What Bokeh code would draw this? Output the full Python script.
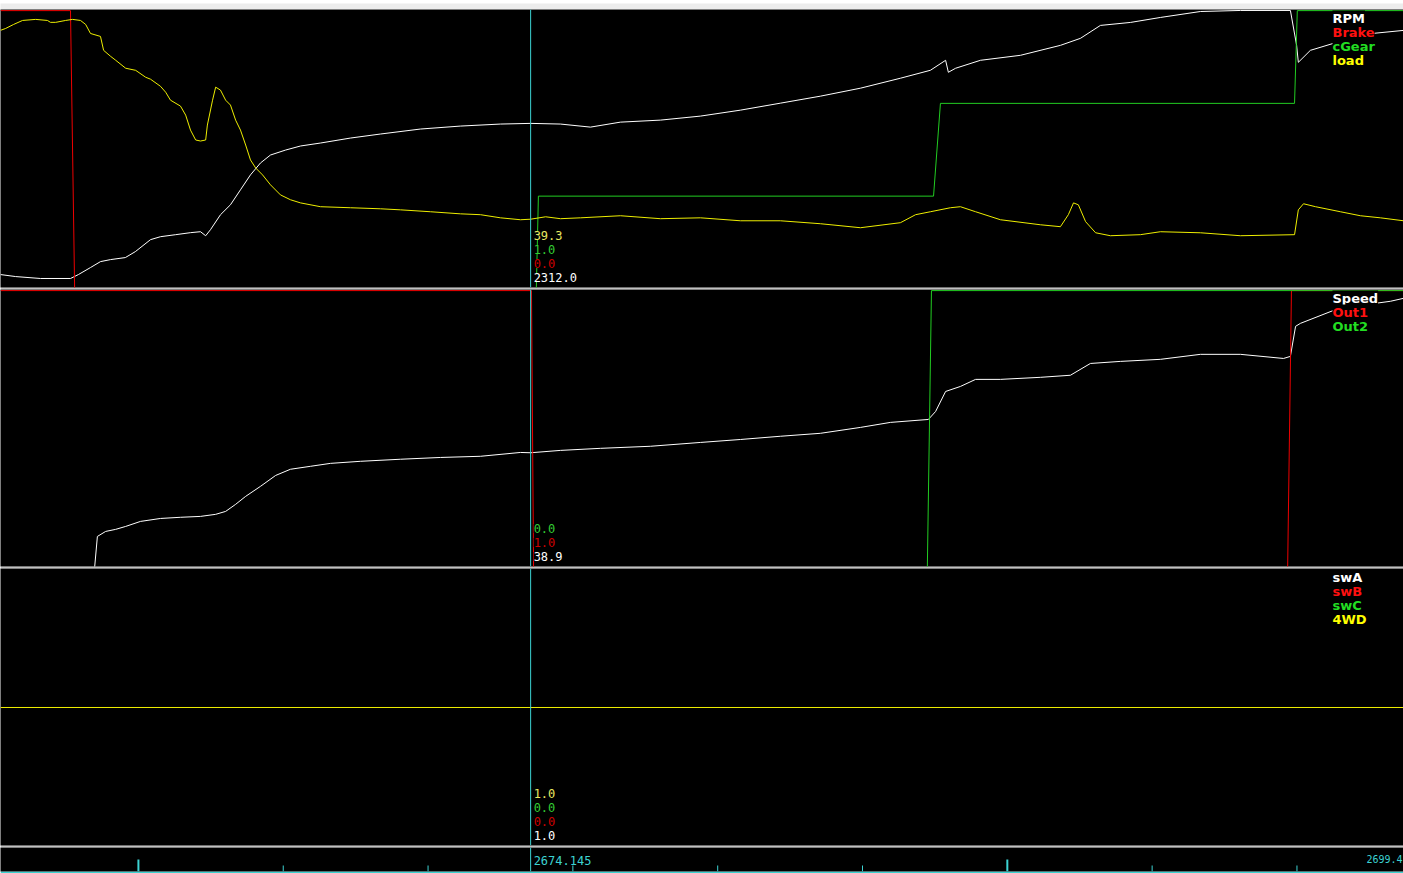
from bokeh.plotting import figure
from bokeh.layouts import column
from bokeh.models import Range1d, Span, Label
from bokeh.embed import file_html
from bokeh.resources import INLINE

# ---------------- data ----------------
T_START, T_END = 2658.77, 2699.46
CURSOR_T = 2674.145
CURSOR_TEXT = "2674.145"
END_TEXT = "2699.4"

rpm_t = [2658.77, 2659.21, 2659.93, 2660.80, 2661.03, 2661.38, 2661.67, 2661.96, 2662.39, 2662.68,
         2663.12, 2663.41, 2663.85, 2664.28, 2664.57, 2664.72, 2664.86, 2665.15, 2665.44, 2665.73,
         2666.02, 2666.31, 2666.60, 2667.04, 2667.47, 2668.05, 2668.92, 2669.79, 2670.95, 2672.11,
         2673.27, 2674.145, 2675.01, 2675.88, 2676.75, 2677.91, 2679.07, 2680.23, 2681.39, 2682.55,
         2683.71, 2684.87, 2685.74, 2686.18, 2686.26, 2686.47, 2687.19, 2688.35, 2689.51, 2690.09,
         2690.67, 2691.54, 2692.41, 2693.57, 2694.73, 2696.18, 2696.36, 2696.41, 2696.76, 2697.43,
         2698.56, 2699.46]
rpm = [735, 714, 694, 694, 735, 808, 870, 891, 912, 974,
       1099, 1130, 1151, 1172, 1182, 1140, 1203, 1359, 1463, 1619,
       1775, 1899, 1982, 2034, 2076, 2107, 2159, 2201, 2253, 2284,
       2305, 2312, 2305, 2273, 2325, 2346, 2388, 2450, 2523, 2596,
       2679, 2783, 2866, 2970, 2845, 2887, 2970, 3022, 3126, 3199,
       3334, 3365, 3417, 3479, 3490, 3490, 3126, 2949, 3074, 3147,
       3250, 3282]

brake_t = [2658.77, 2660.80, 2660.92, 2699.46]
brake = [1, 1, 0, 0]

gear_t = [2658.77, 2674.31, 2674.37, 2685.83, 2686.03, 2696.30, 2696.38, 2699.46]
gear = [0, 0, 1, 1, 2, 2, 3, 3]

load_t = [2658.77, 2658.92, 2659.15, 2659.41, 2659.79, 2660.13, 2660.22, 2660.37, 2660.66, 2660.86,
          2661.09, 2661.24, 2661.38, 2661.67, 2661.76, 2661.96, 2662.11, 2662.40, 2662.69, 2662.98,
          2663.12, 2663.41, 2663.56, 2663.70, 2663.99, 2664.14, 2664.28, 2664.43, 2664.57, 2664.72,
          2664.77, 2664.92, 2665.01, 2665.15, 2665.30, 2665.44, 2665.59, 2665.73, 2665.88, 2666.02,
          2666.17, 2666.37, 2666.60, 2666.89, 2667.18, 2667.47, 2668.05, 2668.92, 2669.79, 2670.37,
          2671.24, 2672.11, 2672.69, 2673.27, 2673.85, 2674.145, 2674.58, 2675.01, 2675.59, 2676.75,
          2677.91, 2679.07, 2680.23, 2681.39, 2682.55, 2683.71, 2684.87, 2685.31, 2685.74, 2686.32,
          2686.61, 2687.05, 2687.77, 2688.93, 2689.51, 2689.74, 2689.89, 2690.03, 2690.24, 2690.53,
          2690.96, 2691.83, 2692.41, 2693.57, 2694.73, 2696.30, 2696.41, 2696.56, 2696.91, 2697.63,
          2698.21, 2698.79, 2699.46]
load = [148.0, 149.1, 151.4, 153.7, 154.3, 153.7, 152.6, 152.6, 153.7, 154.3,
        153.7, 151.4, 146.2, 144.5, 136.5, 133.1, 130.8, 126.2, 125.0, 121.0,
        119.9, 115.8, 112.4, 107.8, 104.4, 99.2, 90.6, 84.9, 84.3, 84.9,
        93.5, 107.8, 115.3, 113.6, 107.8, 105.0, 96.3, 90.6, 82.0, 73.4,
        68.8, 64.8, 59.1, 53.3, 50.5, 48.7, 46.5, 45.9, 45.3, 44.7,
        43.6, 42.4, 41.9, 40.1, 39.0, 39.3, 40.7, 39.6, 40.1, 41.3,
        39.6, 40.1, 38.4, 38.4, 36.7, 34.4, 37.3, 41.9, 43.6, 45.9,
        46.5, 43.6, 39.0, 36.1, 35.0, 41.9, 48.7, 47.6, 37.9, 31.5,
        29.8, 30.4, 32.1, 31.5, 29.8, 30.4, 44.7, 48.2, 46.5, 43.6,
        41.3, 40.1, 38.4]

speed_t = [2658.77, 2661.50, 2661.58, 2661.82, 2662.11, 2662.40, 2662.83, 2663.41, 2663.99, 2664.57,
           2665.01, 2665.30, 2665.59, 2665.88, 2666.31, 2666.75, 2667.18, 2667.76, 2668.34, 2669.21,
           2670.37, 2671.53, 2672.69, 2673.85, 2674.145, 2675.01, 2676.17, 2677.62, 2679.07, 2680.23,
           2681.39, 2682.55, 2683.71, 2684.58, 2685.68, 2685.89, 2686.18, 2686.61, 2687.05, 2687.77,
           2688.93, 2689.80, 2690.38, 2691.25, 2692.41, 2693.57, 2694.73, 2695.98, 2696.18, 2696.33,
           2696.47, 2697.43, 2698.64, 2699.08, 2699.46]
speed = [0, 0, 10.5, 12.2, 12.9, 13.9, 15.6, 16.6, 17.0, 17.3,
         18.0, 19.0, 21.4, 24.1, 27.5, 31.2, 33.3, 34.3, 35.3, 36.0,
         36.7, 37.3, 37.7, 39.0, 38.9, 39.7, 40.4, 41.1, 42.4, 43.4,
         44.5, 45.5, 47.5, 49.2, 50.2, 52.9, 59.7, 61.4, 63.8, 63.8,
         64.5, 65.2, 69.2, 69.9, 70.6, 72.3, 72.3, 70.9, 71.6, 81.8,
         82.8, 87.2, 89.6, 90.3, 91.3]

out1_t = [2658.77, 2674.17, 2674.23, 2696.10, 2696.21, 2699.46]
out1 = [1, 1, 0, 0, 1, 1]
out2_t = [2658.77, 2685.65, 2685.77, 2699.46]
out2 = [0, 0, 1, 1]

sw_t = [2658.77, 2699.46]
swA = [1, 1]
swB = [0, 0]
swC = [0, 0]
fwd = [1, 1]

major_ticks = [2662.77, 2687.97]
minor_ticks = [2666.97, 2671.17, 2675.37, 2679.57, 2683.77, 2692.17, 2696.37]

# ---------------- style ----------------
W = 1403
SEP = "#c0c0c0"
WHITE = "#ffffff"
RED = "#ee0000"
GREEN = "#22cc22"
YELLOW = "#eeee00"
CYAN = "#3cd2d2"
LEG_T = 2697.40

xr = Range1d(T_START, T_END)


def bare(height, bg, border, bottom):
    p = figure(width=W, height=height, x_range=xr, y_range=Range1d(0, height - bottom),
               output_backend="svg", toolbar_location=None,
               x_axis_location=None, y_axis_location=None,
               background_fill_color=bg, border_fill_color=border,
               outline_line_color=None, min_border=0, min_border_left=0,
               min_border_right=0, min_border_top=0, min_border_bottom=bottom)
    p.grid.visible = False
    return p, height - bottom


def legend(p, fh, names):
    for i, (txt, col) in enumerate(names):
        p.add_layout(Label(x=LEG_T, y=fh - 8.5 - 14 * i, text=txt, text_color=col,
                           text_font="DejaVu Sans", text_font_style="bold",
                           text_font_size="13px", text_baseline="middle",
                           background_fill_color="black"))


def readout(p, items):
    n = len(items)
    for i, (txt, col) in enumerate(items):
        p.add_layout(Label(x=CURSOR_T, x_offset=3, y=10 + 14 * (n - 1 - i), text=txt,
                           text_color=col, text_font="DejaVu Sans Mono",
                           text_font_size="12px", text_baseline="middle",
                           background_fill_color="black"))


def cursor(p):
    p.add_layout(Span(location=CURSOR_T, dimension="height", line_color=CYAN, line_width=1))


# window chrome strip on top
pc, _ = bare(9, "#ececec", "#a0a0a0", 1)
pc.line([T_START, T_END], [4, 4], line_alpha=0)

# panel 1
p1, fh = bare(280, "black", SEP, 2)
p1.extra_y_ranges = {"rpm": Range1d(600, 3500), "brake": Range1d(0.005, 1.004),
                     "gear": Range1d(0.015, 3.012), "load": Range1d(0, 160)}
p1.line(rpm_t, rpm, y_range_name="rpm", line_color=WHITE, line_width=1)
p1.line(brake_t, brake, y_range_name="brake", line_color=RED, line_width=1)
p1.line(gear_t, gear, y_range_name="gear", line_color=GREEN, line_width=1)
p1.line(load_t, load, y_range_name="load", line_color=YELLOW, line_width=1)
cursor(p1)
legend(p1, fh, [("RPM", WHITE), ("Brake", "#ff1010"), ("cGear", "#22dd22"), ("load", "#ffff00")])
readout(p1, [("39.3", "#e8e860"), ("1.0", "#33cc33"), ("0.0", "#cc0000"), ("2312.0", WHITE)])

# panel 2
p2, fh = bare(279, "black", SEP, 2)
p2.extra_y_ranges = {"speed": Range1d(0.3, 94.3), "out1": Range1d(0.005, 1.004),
                     "out2": Range1d(0.005, 1.004)}
p2.line(speed_t, speed, y_range_name="speed", line_color=WHITE, line_width=1)
p2.line(out1_t, out1, y_range_name="out1", line_color=RED, line_width=1)
p2.line(out2_t, out2, y_range_name="out2", line_color=GREEN, line_width=1)
cursor(p2)
legend(p2, fh, [("Speed", WHITE), ("Out1", "#ff1010"), ("Out2", "#22dd22")])
readout(p2, [("0.0", "#33cc33"), ("1.0", "#cc0000"), ("38.9", WHITE)])

# panel 3
p3, fh = bare(279, "black", SEP, 2)
p3.extra_y_ranges = {"swA": Range1d(0.0, 0.995), "swB": Range1d(0.005, 1.005),
                     "swC": Range1d(0.005, 1.005), "fwd": Range1d(0, 2.0072)}
p3.line(sw_t, swA, y_range_name="swA", line_color=WHITE, line_width=1)
p3.line(sw_t, swB, y_range_name="swB", line_color=RED, line_width=1)
p3.line(sw_t, swC, y_range_name="swC", line_color=GREEN, line_width=1)
p3.line(sw_t, fwd, y_range_name="fwd", line_color=YELLOW, line_width=1)
cursor(p3)
legend(p3, fh, [("swA", WHITE), ("swB", "#ff1010"), ("swC", "#22dd22"), ("4WD", "#ffff00")])
readout(p3, [("1.0", "#e8e860"), ("0.0", "#33cc33"), ("0.0", "#cc0000"), ("1.0", WHITE)])

# time strip (cyan base line is the strip's bottom border)
ps, fh = bare(26, "black", CYAN, 2)
ps.segment(x0=major_ticks, y0=0, x1=major_ticks, y1=12, line_color=CYAN, line_width=2)
ps.segment(x0=minor_ticks, y0=0, x1=minor_ticks, y1=6, line_color=CYAN, line_width=1)
cursor(ps)
ps.add_layout(Label(x=CURSOR_T, x_offset=3, y=fh - 13, text=CURSOR_TEXT, text_color=CYAN,
                    text_font="DejaVu Sans Mono", text_font_size="12px", text_baseline="middle"))
ps.add_layout(Label(x=T_END, x_offset=-1, y=fh - 11, text=END_TEXT, text_color=CYAN,
                    text_align="right", text_font="DejaVu Sans Mono", text_font_size="10px",
                    text_baseline="middle"))

layout = column(pc, p1, p2, p3, ps, spacing=0)
open("out.html", "w").write(file_html(layout, INLINE))
